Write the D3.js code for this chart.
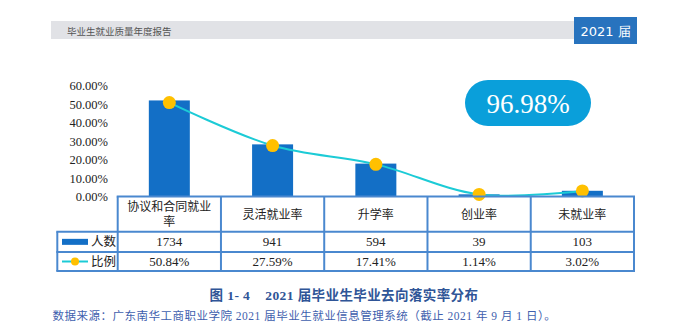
<!DOCTYPE html>
<html><head><meta charset="utf-8">
<script src="https://cdn.jsdelivr.net/npm/d3@7/dist/d3.min.js"></script>
<style>html,body{margin:0;padding:0;background:#fff;}svg{display:block;}</style>
</head><body>
<svg id="c" width="686" height="333"></svg>
<script>
const categories = ["协议和合同就业率", "灵活就业率", "升学率", "创业率", "未就业率"];
const categoryLines = [["协议和合同就业", "率"], ["灵活就业率"], ["升学率"], ["创业率"], ["未就业率"]];
const counts = [1734, 941, 594, 39, 103];
const ratios = [50.84, 27.59, 17.41, 1.14, 3.02];
const ratioLabels = ["50.84%", "27.59%", "17.41%", "1.14%", "3.02%"];
const yTicks = [0, 10, 20, 30, 40, 50, 60];
const seriesNames = ["人数", "比例"];
const headerText = "毕业生就业质量年度报告";
const yearText = "2021 届";
const badgeText = "96.98%";
const captionText = "图 1- 4    2021 届毕业生毕业去向落实率分布";
const sourceText = "数据来源：广东南华工商职业学院 2021 届毕业生就业信息管理系统（截止 2021 年 9 月 1 日）。";

const svg = d3.select("#c");
const CJK = "'Noto Sans CJK SC', sans-serif";
const SERIF = "'Liberation Serif', 'Times New Roman', serif";

// header
svg.append("rect").attr("x", 51).attr("y", 21).attr("width", 524).attr("height", 18).attr("fill", "#e1e2e6");
svg.append("text").attr("x", 67).attr("y", 35).attr("font-family", CJK).attr("font-size", 9.5)
  .attr("fill", "#555").text(headerText);
svg.append("rect").attr("x", 574).attr("y", 17).attr("width", 63).attr("height", 27).attr("fill", "#2873be");
svg.append("text").attr("x", 605.5).attr("y", 36).attr("text-anchor", "middle").attr("font-family", "'DejaVu Sans', sans-serif")
  .attr("font-size", 13).attr("fill", "#fff").text(yearText);

// scales
const tableLeft = 117.7, tableRight = 634;
const x = d3.scaleBand().domain(categories).range([tableLeft, tableRight]).paddingInner(0).paddingOuter(0);
const y = d3.scaleLinear().domain([0, 60]).range([196.5, 85.7]);
const yc = d3.scaleLinear().domain([0, 2000]).range([196.5, 85.7]);

// y axis labels
const yAxis = d3.axisLeft(y).tickValues(yTicks).tickFormat(d => d.toFixed(2) + "%").tickSize(0).tickPadding(0);
const ga = svg.append("g").attr("transform", "translate(108,0)").call(yAxis);
ga.select(".domain").remove();
ga.selectAll("text").attr("font-family", SERIF).attr("font-size", 12.5).attr("fill", "#222");

// bars
const barW = 41;
svg.append("g").selectAll("rect").data(categories).join("rect")
  .attr("x", d => x(d) + x.bandwidth() / 2 - barW / 2)
  .attr("width", barW)
  .attr("y", (d, i) => yc(counts[i]))
  .attr("height", (d, i) => yc(0) - yc(counts[i]))
  .attr("fill", "#136fc6");

// badge
svg.append("rect").attr("x", 465).attr("y", 80).attr("width", 126).attr("height", 46).attr("rx", 23)
  .attr("fill", "#0a9fda");
svg.append("text").attr("x", 528).attr("y", 113).attr("text-anchor", "middle").attr("font-family", SERIF)
  .attr("font-size", 27).attr("fill", "#fff").text(badgeText);

// line
const pts = categories.map((c, i) => [x(c) + x.bandwidth() / 2, y(ratios[i])]);
svg.append("path").attr("d", d3.line().curve(d3.curveCatmullRom.alpha(0.5))(pts))
  .attr("fill", "none").attr("stroke", "#1ccbd6").attr("stroke-width", 2);
svg.append("g").selectAll("circle").data(pts).join("circle")
  .attr("cx", d => d[0]).attr("cy", d => d[1]).attr("r", 6.5).attr("fill", "#ffc000");

// table
const rowY = [196.5, 231.7, 252, 271];
const legLeft = 57.3;
const tcol = "#4a88cf";
const tg = svg.append("g");
const hline = (x1, x2, yy) => tg.append("line").attr("x1", x1).attr("x2", x2).attr("y1", yy).attr("y2", yy).attr("stroke", tcol).attr("stroke-width", 2);
const vline = (xx, y1, y2) => tg.append("line").attr("x1", xx).attr("x2", xx).attr("y1", y1).attr("y2", y2).attr("stroke", tcol).attr("stroke-width", 2);
hline(tableLeft - 1, tableRight + 1, rowY[0]);
hline(legLeft - 1, tableRight + 1, rowY[1]);
hline(legLeft - 1, tableRight + 1, rowY[2]);
hline(legLeft - 1, tableRight + 1, rowY[3]);
vline(legLeft, rowY[1], rowY[3]);
categories.forEach(c => vline(x(c), rowY[0], rowY[3]));
vline(tableRight, rowY[0], rowY[3]);

// category labels
categoryLines.forEach((lines, i) => {
  const cx = x(categories[i]) + x.bandwidth() / 2;
  const cy = (rowY[0] + rowY[1]) / 2;
  const lh = 15.5;
  lines.forEach((t, j) => {
    svg.append("text").attr("x", cx).attr("y", cy + (j - (lines.length - 1) / 2) * lh + 4.5)
      .attr("text-anchor", "middle").attr("font-family", CJK).attr("font-size", 12).attr("fill", "#222").text(t);
  });
});
// values
counts.forEach((v, i) => {
  svg.append("text").attr("x", x(categories[i]) + x.bandwidth() / 2).attr("y", (rowY[1] + rowY[2]) / 2 + 4.5)
    .attr("text-anchor", "middle").attr("font-family", SERIF).attr("font-size", 13).attr("fill", "#222").text(v);
});
ratioLabels.forEach((v, i) => {
  svg.append("text").attr("x", x(categories[i]) + x.bandwidth() / 2).attr("y", (rowY[2] + rowY[3]) / 2 + 4.5)
    .attr("text-anchor", "middle").attr("font-family", SERIF).attr("font-size", 13).attr("fill", "#222").text(v);
});
// legend keys
const ly1 = (rowY[1] + rowY[2]) / 2, ly2 = (rowY[2] + rowY[3]) / 2;
svg.append("rect").attr("x", 62).attr("y", ly1 - 3).attr("width", 26).attr("height", 6).attr("fill", "#136fc6");
svg.append("text").attr("x", 91).attr("y", ly1 + 4.5).attr("font-family", CJK).attr("font-size", 12.5).attr("fill", "#222").text(seriesNames[0]);
svg.append("line").attr("x1", 62).attr("x2", 88).attr("y1", ly2).attr("y2", ly2).attr("stroke", "#1ccbd6").attr("stroke-width", 2);
svg.append("circle").attr("cx", 75).attr("cy", ly2).attr("r", 4).attr("fill", "#ffc000");
svg.append("text").attr("x", 91).attr("y", ly2 + 4.5).attr("font-family", CJK).attr("font-size", 12.5).attr("fill", "#222").text(seriesNames[1]);

// caption
svg.append("text").attr("x", 344).attr("y", 300).attr("text-anchor", "middle").attr("font-family", "'Liberation Serif', 'Noto Sans CJK SC', serif")
  .attr("font-weight", "bold").attr("font-size", 13.5).attr("letter-spacing", 0.4).attr("fill", "#2f5597").style("white-space", "pre").text(captionText);
svg.append("text").attr("x", 52.5).attr("y", 320).attr("font-family", "'Liberation Serif', 'Noto Sans CJK SC', serif")
  .attr("font-size", 11.5).attr("letter-spacing", 0.5).attr("fill", "#3f5fae").style("white-space", "pre").text(sourceText);
</script>
</body></html>
